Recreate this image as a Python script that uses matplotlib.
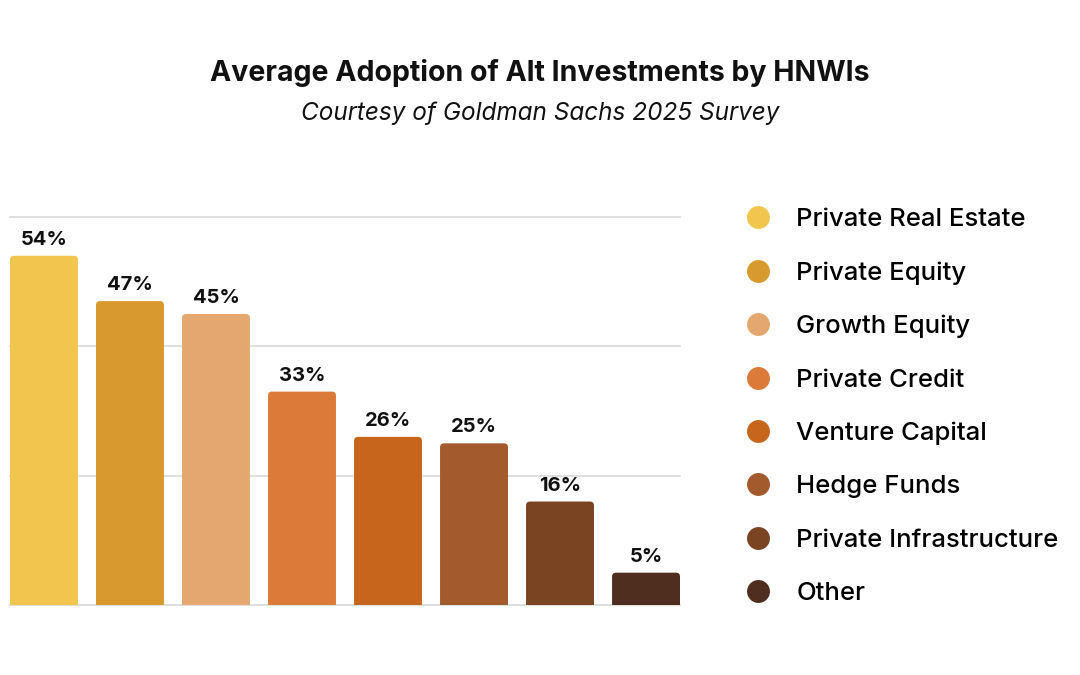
import matplotlib.pyplot as plt
from matplotlib.patches import FancyBboxPatch
from matplotlib.lines import Line2D

# Data
categories = ['Private Real Estate', 'Private Equity', 'Growth Equity', 'Private Credit',
              'Venture Capital', 'Hedge Funds', 'Private Infrastructure', 'Other']
adoption = [54, 47, 45, 33, 26, 25, 16, 5]
colors = ['#F2C64E', '#D89A2E', '#E5A770', '#DC7A3A',
          '#C8651C', '#A35A2C', '#7A4422', '#4F2E20']

plt.rcParams['font.family'] = ['Inter', 'DejaVu Sans']

fig = plt.figure(figsize=(10.8, 6.75), dpi=100)
ax = fig.add_axes([10 / 1080, 70 / 675, 670 / 1080, 388 / 675])

width = 0.79
ax.set_xlim(-width / 2, len(categories) - 1 + width / 2)
ax.set_ylim(0, 60)

# gridlines
for g in [0, 20, 40, 60]:
    ax.axhline(g, color='#d9d9d9', lw=1.2, zorder=0, clip_on=False)

# rounded bars (start below 0 so only the top corners show)
px_x = 670 / (len(categories) - 1 + width)
px_y = 388 / 60
r = 4 / px_x
for i, (v, c) in enumerate(zip(adoption, colors)):
    p = FancyBboxPatch((i - width / 2, -2), width, v + 2,
                       boxstyle=f'round,pad=0,rounding_size={r}',
                       mutation_aspect=px_x / px_y,
                       fc=c, ec='none', zorder=2)
    ax.add_patch(p)
    ax.annotate(f'{v}%', (i, v), xytext=(0, 5), textcoords='offset points',
                ha='center', va='bottom', fontsize=14.5, fontweight='bold', color='#111111')

ax.axis('off')

# Titles
fig.text(0.5, 1 - 73 / 675, 'Average Adoption of Alt Investments by HNWIs',
         ha='center', va='center', fontsize=20.5, fontweight='bold', color='#111111')
fig.text(0.5, 1 - 113 / 675, 'Courtesy of Goldman Sachs 2025 Survey',
         ha='center', va='center', fontsize=17.5, style='italic', color='#111111')

# Legend
handles = [Line2D([], [], marker='o', ls='none', markersize=16.5, color=c, mec='none')
           for c in colors]
fig.legend(handles, categories, loc='upper left', bbox_to_anchor=(745 / 1080, 1 - 208 / 675),
           frameon=False, prop={'size': 18.5, 'weight': 'medium'},
           handlelength=1.0, handletextpad=1.0,
           labelspacing=1.175, borderpad=0, borderaxespad=0)

plt.savefig('out.png', dpi=100)
